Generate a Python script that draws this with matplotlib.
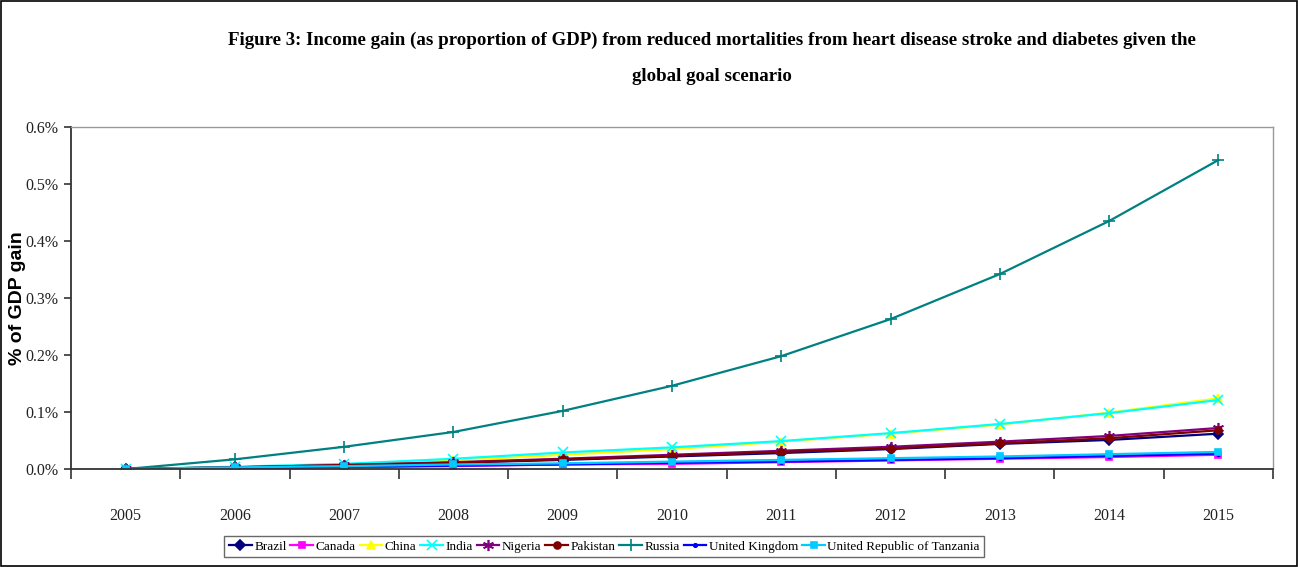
import matplotlib
matplotlib.use("Agg")
import matplotlib.pyplot as plt
from matplotlib.ticker import FuncFormatter, FixedLocator
from matplotlib.patches import Rectangle

years = ["2005", "2006", "2007", "2008", "2009", "2010", "2011", "2012", "2013", "2014", "2015"]

# Income gain, % of GDP
brazil   = [0.000, 0.003, 0.006, 0.011, 0.016, 0.022, 0.028, 0.035, 0.044, 0.051, 0.062]
canada   = [0.000, 0.001, 0.003, 0.005, 0.008, 0.009, 0.012, 0.015, 0.018, 0.021, 0.025]
china    = [0.000, 0.003, 0.007, 0.015, 0.025, 0.035, 0.048, 0.062, 0.078, 0.099, 0.124]
india    = [0.000, 0.004, 0.009, 0.018, 0.029, 0.038, 0.049, 0.063, 0.079, 0.098, 0.121]
nigeria  = [0.000, 0.003, 0.007, 0.012, 0.018, 0.025, 0.032, 0.039, 0.048, 0.058, 0.072]
pakistan = [0.000, 0.003, 0.007, 0.011, 0.017, 0.023, 0.030, 0.036, 0.045, 0.054, 0.068]
russia   = [0.000, 0.017, 0.039, 0.065, 0.102, 0.146, 0.198, 0.263, 0.342, 0.435, 0.542]
uk       = [0.000, 0.002, 0.004, 0.006, 0.008, 0.011, 0.013, 0.016, 0.019, 0.023, 0.027]
tanzania = [0.000, 0.003, 0.005, 0.008, 0.010, 0.013, 0.016, 0.019, 0.022, 0.026, 0.030]

names = ["Brazil", "Canada", "China", "India", "Nigeria", "Pakistan", "Russia",
         "United Kingdom", "United Republic of Tanzania"]
series = [brazil, canada, china, india, nigeria, pakistan, russia, uk, tanzania]
colors = ["#000080", "#FF00FF", "#FFFF00", "#00FFFF", "#800080", "#800000",
          "#008080", "#0000FF", "#00CCFF"]
markers = ["D", "s", "^", "x", (6, 2, 0), "o", "+", ".", "s"]
msizes = [5, 5, 6, 7, 8, 5, 8, 5, 4]

title = ("Figure 3: Income gain (as proportion of GDP) from reduced mortalities from heart disease stroke and diabetes given the\n"
         "global goal scenario")

fig = plt.figure(figsize=(12.98, 5.67), dpi=100)
fig.patch.set_facecolor("white")
fig.add_artist(Rectangle((0.0008, 0.0018), 0.9984, 0.9964, transform=fig.transFigure,
                         fill=False, edgecolor="black", linewidth=1.2))

ax = fig.add_axes([0.0547, 0.1728, 0.9260, 0.6032])
x = list(range(len(years)))
for vals, name, c, m, ms in zip(series, names, colors, markers, msizes):
    ax.plot(x, vals, color=c, marker=m, markersize=ms, linewidth=1.6,
            markeredgewidth=1.2, label=name)

ax.set_xlim(-0.5, len(years) - 0.5)
ax.set_ylim(0, 0.6)
ax.set_yticks([0, 0.1, 0.2, 0.3, 0.4, 0.5, 0.6])
ax.yaxis.set_major_formatter(FuncFormatter(lambda v, p: f"{v:.1f}%"))
ax.set_xticks(x)
ax.set_xticklabels(years)
ax.xaxis.set_minor_locator(FixedLocator([i - 0.5 for i in range(len(years) + 1)]))
ax.tick_params(axis="x", which="major", length=0, pad=28)
ax.tick_params(axis="x", which="minor", length=7, width=1.2, direction="out", color="#333333")
ax.tick_params(axis="y", length=5, width=1.2, direction="out", color="#333333", pad=4)
for lbl in ax.get_xticklabels() + ax.get_yticklabels():
    lbl.set_fontfamily("Liberation Serif")
    lbl.set_fontsize(11.5)
    lbl.set_color("#222222")

for s in ("left", "bottom"):
    ax.spines[s].set_color("#333333")
    ax.spines[s].set_linewidth(1.3)
for s in ("top", "right"):
    ax.spines[s].set_color("#999999")
    ax.spines[s].set_linewidth(1.0)

fig.text(0.5485, 0.897, title, ha="center", va="center", fontsize=13.6,
         fontfamily="Liberation Serif", fontweight="bold", linespacing=2.45)

fig.text(0.0135, 0.475, "% of GDP gain", rotation=90, ha="center", va="center",
         fontsize=14, fontfamily="Liberation Sans", fontweight="bold")

leg = fig.legend(loc="center", bbox_to_anchor=(0.4657, 0.0362), ncol=9,
                 prop={"family": "Liberation Serif", "size": 9.5},
                 frameon=True, fancybox=False, edgecolor="#444444",
                 handlelength=1.7, handletextpad=0.2, columnspacing=0.3,
                 borderpad=0.35, borderaxespad=0)
leg.get_frame().set_linewidth(1.0)

fig.savefig("out.png", dpi=100)
